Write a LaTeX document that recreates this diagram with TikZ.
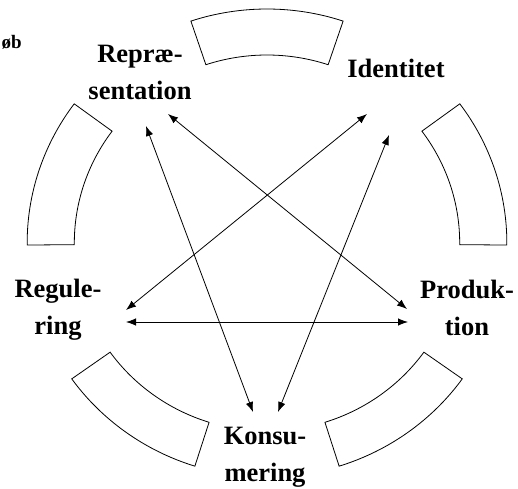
\documentclass[tikz,border=0pt]{standalone}
\usepackage{fontspec}
\setmainfont{Liberation Serif}
\usetikzlibrary{arrows.meta}
\begin{document}
\begin{tikzpicture}[x=1pt,y=1pt,
  lbl/.style={font=\bfseries\fontsize{26.5}{37}\selectfont, align=center, inner sep=0pt},
  seg/.style={draw=black, line width=0.8pt, line join=miter},
  link/.style={line width=0.8pt, {Latex[length=10pt,width=7.5pt]}-{Latex[length=10pt,width=7.5pt]}}]
\useasboundingbox (0,0) rectangle (518,488);
% curved boxes
\begin{scope}[shift={(267,245)}, xscale=1.025]
\foreach \a in {90,18,-54,-126,162} {
  \draw[seg] (\a-18.5:188) -- (\a-18.5:234)
    arc[start angle=\a-18.5, end angle=\a+18.5, radius=234]
    -- (\a+18.5:188)
    arc[start angle=\a+18.5, end angle=\a-18.5, radius=188] -- cycle;
}
\end{scope}
% labels
\node[lbl] (rep) at (140,416) {Repræ-\\sentation};
\node[lbl, anchor=base] (ide) at (396,410) {Identitet};
\node[lbl] (reg) at (58,178) {Regule-\\ring};
\node[lbl] (pro) at (467,180) {Produk-\\tion};
\node[lbl] (kon) at (265,31) {Konsu-\\mering};
\node[font=\bfseries\fontsize{19}{22}\selectfont, anchor=base east, inner sep=0pt] (cut) at (22,439) {øb};
% arrow end points
\coordinate (R1) at (168,374);
\coordinate (R2) at (146,362);
\coordinate (I1) at (367,374);
\coordinate (I2) at (389,353);
\coordinate (G1) at (126,178);
\coordinate (G2) at (126,166);
\coordinate (P1) at (407,179);
\coordinate (P2) at (408,166);
\coordinate (K1) at (253,76);
\coordinate (K2) at (278,76);
\draw[link] (R1) -- (P1);
\draw[link] (R2) -- (K1);
\draw[link] (I1) -- (G1);
\draw[link] (I2) -- (K2);
\draw[link] (G2) -- (P2);
\end{tikzpicture}
\end{document}
